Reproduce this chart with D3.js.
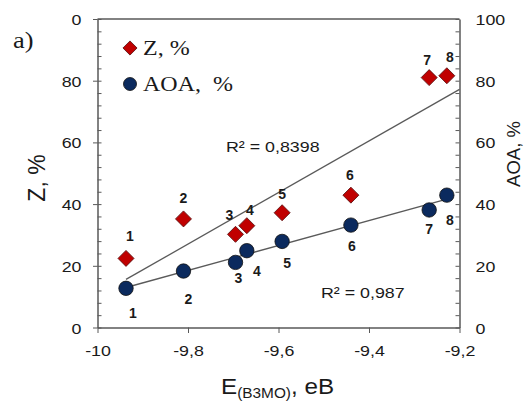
<!DOCTYPE html>
<html>
<head>
<meta charset="utf-8">
<script src="https://cdn.jsdelivr.net/npm/d3@7"></script>
<style>
  html, body { margin: 0; padding: 0; background: #fff; }
  svg { display: block; }
  text { font-family: "Liberation Sans", Arial, sans-serif; fill: #1a1a1a; }
  .serif { font-family: "Liberation Serif", "Times New Roman", serif; }
</style>
</head>
<body>
<svg id="chart" width="525" height="401"></svg>
<script>
// Compounds 1..8: HOMO energy (eV) against inhibition (Z) and antioxidant activity (AOA)
const pointIds = ["1", "2", "3", "4", "5", "6", "7", "8"];
const homoEnergy = [-9.937, -9.81, -9.695, -9.670, -9.592, -9.440, -9.267, -9.228];
const zValues = [22.4, 35.2, 30.2, 33.0, 37.2, 42.9, 81.0, 81.6];
const aoaValues = [12.7, 18.3, 21.1, 24.9, 27.9, 33.2, 38.1, 42.9];

const xTicks = [-10, -9.8, -9.6, -9.4, -9.2];
const xTickLabels = ["-10", "-9,8", "-9,6", "-9,4", "-9,2"];
const yTicks = [0, 20, 40, 60, 80, 100];
const leftTickLabels = ["0", "20", "40", "60", "80", "0"];
const rightTickLabels = ["0", "20", "40", "60", "80", "100"];
const seriesNames = ["Z, %", "AOA,  %"];
const rSquaredLabels = ["R² = 0,8398", "R² = 0,987"];

// label placement around each marker (dx, dy in px)
const zLabelOffsets = [[4, -22], [0, -21], [-6, -19], [3, -16], [0, -19], [-1, -20], [-2, -18], [3, -19]];
const aoaLabelOffsets = [[7, 25], [5, 28], [3, 16], [10, 20], [5, 22], [1, 21], [0, 19], [3, 25]];

const svg = d3.select("#chart");
const plot = { left: 97.5, right: 459.5, top: 19, bottom: 327.5 };
const axisColor = "#595959";
const textScaleX = 1.15;

const x = d3.scaleLinear().domain([-10, -9.2]).range([plot.left, plot.right]);
const y = d3.scaleLinear().domain([0, 100]).range([plot.bottom, plot.top]);

function wideText(g, tx, ty, str, sx) {
  return g.append("text")
    .attr("transform", `translate(${tx},${ty}) scale(${sx},1)`)
    .text(str);
}

// frame top edge
svg.append("line")
  .attr("x1", plot.left).attr("x2", plot.right)
  .attr("y1", plot.top).attr("y2", plot.top)
  .attr("stroke", axisColor).attr("stroke-width", 1.5);

// minor ticks every 4 units, inside both vertical axes
const minorTicks = d3.range(0, 101, 4);
svg.append("g")
  .attr("transform", `translate(${plot.left},0)`)
  .call(d3.axisRight(y).tickValues(minorTicks).tickSize(4).tickSizeOuter(0).tickFormat(""))
  .call(g => g.select(".domain").remove())
  .call(g => g.selectAll("line").attr("stroke", axisColor));
svg.append("g")
  .attr("transform", `translate(${plot.right},0)`)
  .call(d3.axisLeft(y).tickValues(minorTicks).tickSize(4).tickSizeOuter(0).tickFormat(""))
  .call(g => g.select(".domain").remove())
  .call(g => g.selectAll("line").attr("stroke", axisColor));

// left axis (Z)
const leftAxis = svg.append("g")
  .attr("transform", `translate(${plot.left},0)`)
  .call(d3.axisLeft(y).tickValues(yTicks).tickSize(4.5).tickSizeOuter(0)
    .tickFormat((d, i) => leftTickLabels[i]));
leftAxis.select(".domain").attr("stroke", axisColor).attr("stroke-width", 1.5);
leftAxis.selectAll("line").attr("stroke", axisColor);
leftAxis.selectAll("text").each(function () {
  const t = d3.select(this);
  t.attr("x", null).attr("dy", null)
    .attr("transform", `translate(-16,5.5) scale(${textScaleX},1)`)
    .attr("font-size", 15.5).attr("fill", "#1a1a1a");
});

// right axis (AOA)
const rightAxis = svg.append("g")
  .attr("transform", `translate(${plot.right},0)`)
  .call(d3.axisRight(y).tickValues(yTicks).tickSize(0).tickSizeOuter(0)
    .tickFormat((d, i) => rightTickLabels[i]));
rightAxis.select(".domain").attr("stroke", axisColor).attr("stroke-width", 1.5);
rightAxis.selectAll("text").each(function () {
  d3.select(this).attr("x", null).attr("dy", null)
    .attr("transform", `translate(16,5.5) scale(${textScaleX},1)`)
    .attr("text-anchor", "start")
    .attr("font-size", 15.5).attr("fill", "#1a1a1a");
});

// bottom axis (HOMO energy)
const bottomAxis = svg.append("g")
  .attr("transform", `translate(0,${plot.bottom})`)
  .call(d3.axisBottom(x).tickValues(xTicks).tickSize(5.5).tickSizeOuter(0)
    .tickFormat((d, i) => xTickLabels[i]));
bottomAxis.select(".domain").attr("stroke", axisColor).attr("stroke-width", 1.5);
bottomAxis.selectAll("line").attr("stroke", axisColor);
bottomAxis.selectAll("text").each(function () {
  d3.select(this).attr("y", null).attr("dy", null)
    .attr("transform", `translate(0,28) scale(${textScaleX},1)`)
    .attr("font-size", 15.5).attr("fill", "#1a1a1a");
});

// least-squares trend lines
function fit(xs, ys) {
  const mx = d3.mean(xs), my = d3.mean(ys);
  let sxy = 0, sxx = 0;
  xs.forEach((v, i) => { sxy += (v - mx) * (ys[i] - my); sxx += (v - mx) * (v - mx); });
  const b = sxy / sxx;
  return v => my + b * (v - mx);
}
const zFit = fit(homoEnergy, zValues);
const aoaFit = fit(homoEnergy, aoaValues);
const xMin = d3.min(homoEnergy), xMax = d3.max(homoEnergy);
const trendLine = d3.line().x(d => x(d[0])).y(d => y(d[1]));
svg.append("path")
  .attr("d", trendLine([[xMin, zFit(xMin)], [-9.2, zFit(-9.2)]]))
  .attr("fill", "none").attr("stroke", "#5a5a5a").attr("stroke-width", 1.3);
svg.append("path")
  .attr("d", trendLine([[xMin, aoaFit(xMin)], [xMax, aoaFit(xMax)]]))
  .attr("fill", "none").attr("stroke", "#5a5a5a").attr("stroke-width", 1.3);

// markers
const diamond = d3.symbol().type(d3.symbolSquare).size(128);
const zColor = "#c00000", aoaColor = "#0b2a5e";
svg.append("g").selectAll("path")
  .data(homoEnergy)
  .join("path")
  .attr("d", diamond)
  .attr("transform", (d, i) => `translate(${x(d)},${y(zValues[i])}) rotate(45)`)
  .attr("fill", zColor).attr("stroke", "#5a1010").attr("stroke-width", 0.8);
svg.append("g").selectAll("circle")
  .data(homoEnergy)
  .join("circle")
  .attr("cx", d => x(d)).attr("cy", (d, i) => y(aoaValues[i])).attr("r", 7.2)
  .attr("fill", aoaColor).attr("stroke", "#111").attr("stroke-width", 0.8);

// point numbers
const labelGroup = svg.append("g").attr("font-size", 14).attr("font-weight", "bold")
  .attr("text-anchor", "middle").attr("dominant-baseline", "central");
homoEnergy.forEach((d, i) => {
  labelGroup.append("text")
    .attr("x", x(d) + zLabelOffsets[i][0]).attr("y", y(zValues[i]) + zLabelOffsets[i][1])
    .text(pointIds[i]);
  labelGroup.append("text")
    .attr("x", x(d) + aoaLabelOffsets[i][0]).attr("y", y(aoaValues[i]) + aoaLabelOffsets[i][1])
    .text(pointIds[i]);
});

// R² annotations
wideText(svg, 226, 152, rSquaredLabels[0], textScaleX).attr("font-size", 15.5);
wideText(svg, 321, 298, rSquaredLabels[1], textScaleX).attr("font-size", 15.5);

// legend
svg.append("path").attr("d", d3.symbol().type(d3.symbolSquare).size(100))
  .attr("transform", "translate(130,48) rotate(45)")
  .attr("fill", zColor).attr("stroke", "#5a1010").attr("stroke-width", 0.8);
svg.append("circle").attr("cx", 130).attr("cy", 84).attr("r", 6.5)
  .attr("fill", aoaColor).attr("stroke", "#111").attr("stroke-width", 0.8);
wideText(svg, 143, 55, seriesNames[0], 1.2).attr("class", "serif").attr("font-size", 20)
  .style("white-space", "pre");
wideText(svg, 143, 91, seriesNames[1], 1.2).attr("class", "serif").attr("font-size", 20)
  .style("white-space", "pre");

// panel tag
wideText(svg, 13, 48, "a)", 1.1).attr("class", "serif").attr("font-size", 24);

// axis titles
svg.append("text").attr("transform", "translate(45,178) rotate(-90)")
  .attr("text-anchor", "middle").attr("font-size", 23).text("Z, %");
svg.append("text").attr("transform", "translate(520,154) rotate(-90)")
  .attr("text-anchor", "middle").attr("font-size", 18.5).text("AOA, %");

const xTitle = svg.append("text").attr("transform", "translate(221,394) scale(1.1,1)").attr("font-size", 22);
xTitle.append("tspan").text("E");
xTitle.append("tspan").attr("font-size", 14).attr("dy", 4).text("(B3MO)");
xTitle.append("tspan").attr("dy", -4).text(", eB");
</script>
</body>
</html>
